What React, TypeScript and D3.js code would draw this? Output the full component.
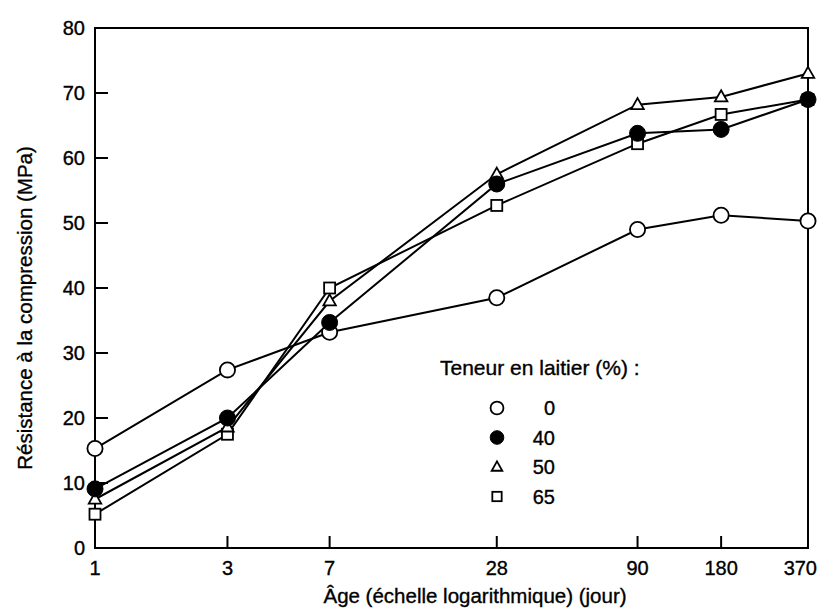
import React from "react";
import * as d3 from "d3";

const days = [1, 3, 7, 28, 90, 180, 370];
const xTickDays = [1, 3, 7, 28, 90, 180, 370];
const yTicks = [0, 10, 20, 30, 40, 50, 60, 70, 80];
const slag0 = [15.3, 27.4, 33.2, 38.5, 49.0, 51.2, 50.3];
const slag40 = [9.1, 20.0, 34.7, 56.0, 63.8, 64.4, 69.0];
const slag50 = [7.5, 18.6, 38.0, 57.5, 68.2, 69.4, 73.0];
const slag65 = [5.2, 17.5, 40.0, 52.7, 62.2, 66.7, 69.0];
const legendLabels = ["0", "40", "50", "65"];

const W = 819, H = 612;
const L = 95, R = 808, T = 28, B = 548;
const FONT = "'Liberation Sans', Arial, Helvetica, sans-serif";

type Kind = "open" | "filled" | "tri" | "sq";

function Marker({ kind, x, y, s = 1 }: { kind: Kind; x: number; y: number; s?: number }) {
  const sw = 1.8;
  if (kind === "open") return <circle cx={x} cy={y} r={7.6 * s} fill="#fff" stroke="#000" strokeWidth={sw} />;
  if (kind === "filled") return <circle cx={x} cy={y} r={8 * s} fill="#000" stroke="#000" strokeWidth={1} />;
  if (kind === "tri") {
    const h = 11 * s, w = 12.5 * s;
    const p = `${x},${y - h * 0.6} ${x + w / 2},${y + h * 0.4} ${x - w / 2},${y + h * 0.4}`;
    return <polygon points={p} fill="#fff" stroke="#000" strokeWidth={sw} />;
  }
  const a = 11 * s;
  return <rect x={x - a / 2} y={y - a / 2} width={a} height={a} fill="#fff" stroke="#000" strokeWidth={sw} />;
}

export default function App() {
  const x = d3.scaleLog().domain([1, 370]).range([L, R]);
  const y = d3.scaleLinear().domain([0, 80]).range([B, T]);
  const line = d3.line<number>().x((_, i) => x(days[i])).y((v) => y(v));

  const series: { vals: number[]; kind: Kind }[] = [
    { vals: slag0, kind: "open" },
    { vals: slag65, kind: "sq" },
    { vals: slag50, kind: "tri" },
    { vals: slag40, kind: "filled" },
  ];
  const legendKinds: Kind[] = ["open", "filled", "tri", "sq"];
  const textStyle = { fontFamily: FONT, fill: "#000", stroke: "#000", strokeWidth: 0.35 } as const;

  return (
    <div style={{ position: "absolute", left: 0, top: 0 }}>
      <svg width={W} height={H} style={{ display: "block", background: "#fff" }}>
        <rect x={0} y={0} width={W} height={H} fill="#fff" />
        {/* frame */}
        <rect x={L} y={T} width={R - L} height={B - T} fill="none" stroke="#000" strokeWidth={2} />
        {/* y ticks */}
        {yTicks.map((t) => (
          <g key={"y" + t}>
            {t > 0 && t < 80 && <line x1={L} x2={L + 13} y1={y(t)} y2={y(t)} stroke="#000" strokeWidth={2} />}
            <text x={L - 10} y={y(t)} dy="0.36em" textAnchor="end" fontSize={20} {...textStyle}>
              {t}
            </text>
          </g>
        ))}
        {/* x ticks */}
        {xTickDays.map((d) => (
          <g key={"x" + d}>
            {d > 1 && d < 370 && <line x1={x(d)} x2={x(d)} y1={B} y2={B - 12} stroke="#000" strokeWidth={2} />}
            <text
              x={d === 370 ? 817 : x(d)}
              y={B + 27}
              textAnchor={d === 370 ? "end" : "middle"}
              fontSize={20}
              {...textStyle}
            >
              {d}
            </text>
          </g>
        ))}
        <text x={475} y={603} textAnchor="middle" fontSize={20.5} {...textStyle}>
          Âge (échelle logarithmique) (jour)
        </text>
        <text
          transform={`translate(32, ${(T + B) / 2 + 20}) rotate(-90)`}
          textAnchor="middle"
          fontSize={20.5}
          {...textStyle}
        >
          Résistance à la compression (MPa)
        </text>
        {/* lines */}
        {series.map((s, i) => (
          <path key={"l" + i} d={line(s.vals) || ""} fill="none" stroke="#000" strokeWidth={2} />
        ))}
        {/* markers */}
        {series.map((s, i) =>
          s.vals.map((v, j) => <Marker key={`m${i}-${j}`} kind={s.kind} x={x(days[j])} y={y(v)} />)
        )}
        {/* legend */}
        <text x={440} y={375} fontSize={21} {...textStyle}>
          Teneur en laitier (%) :
        </text>
        {legendLabels.map((lab, i) => (
          <g key={"lg" + i}>
            <Marker kind={legendKinds[i]} x={497} y={408 + i * 29.5} s={0.85} />
            <text x={555} y={408 + i * 29.5} dy="0.36em" textAnchor="end" fontSize={20} {...textStyle}>
              {lab}
            </text>
          </g>
        ))}
      </svg>
    </div>
  );
}
